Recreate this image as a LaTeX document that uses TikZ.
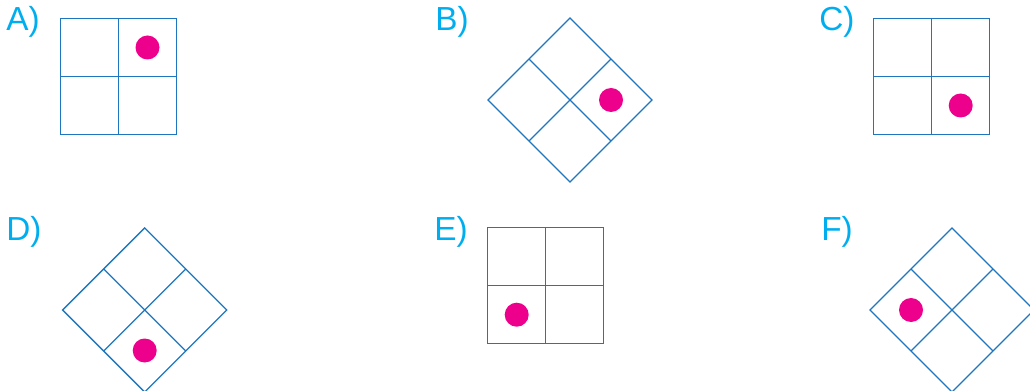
\documentclass[tikz,border=0pt]{standalone}
\usepackage{fontspec}
\setmainfont{Liberation Sans}
\usepackage{tikz}
\usetikzlibrary{positioning}

\definecolor{gridblue}{RGB}{30,118,190}
\definecolor{labelcyan}{RGB}{0,174,239}
\definecolor{dotpink}{RGB}{236,0,140}

\begin{document}
\begin{tikzpicture}[
    x=0.75pt, y=-0.75pt,
    gridline/.style={draw=gridblue, line width=1pt, line join=miter},
    dot/.style={fill=dotpink},
    tag/.style={anchor=base west, inner sep=0pt, text=labelcyan, font=\fontsize{25}{29}\selectfont}
]
    \useasboundingbox (0,0) rectangle (1030,391);

    % labels
    \node[tag] (labA) at (6,31) {A)};
    \node[tag] (labB) at (435,31) {B)};
    \node[tag] (labC) at (819,31) {C)};
    \node[tag] (labD) at (6,241) {D)};
    \node[tag] (labE) at (434,241) {E)};
    \node[tag] (labF) at (821,241) {F)};

    % A: square, dot top right
    \begin{scope}[shift={(118.5,76.5)}]
        \draw[gridline] (-58,-58) rectangle (58,58) (0,-58) -- (0,58) (-58,0) -- (58,0);
        \fill[dot] (29,-29) circle (12);
    \end{scope}

    % B: diamond, dot right
    \begin{scope}[shift={(570,100)}, rotate=45]
        \draw[gridline] (-58,-58) rectangle (58,58) (0,-58) -- (0,58) (-58,0) -- (58,0);
    \end{scope}
    \fill[dot] (611,100) circle (12);

    % C: square, dot bottom right
    \begin{scope}[shift={(931.7,76.5)}]
        \draw[gridline] (-58,-58) rectangle (58,58) (0,-58) -- (0,58) (-58,0) -- (58,0);
        \fill[dot] (29,29) circle (12);
    \end{scope}

    % D: diamond, dot bottom
    \begin{scope}[shift={(144.7,310)}, rotate=45]
        \draw[gridline] (-58,-58) rectangle (58,58) (0,-58) -- (0,58) (-58,0) -- (58,0);
    \end{scope}
    \fill[dot] (144.7,350.5) circle (12);

    % E: square, dot bottom left
    \begin{scope}[shift={(545.7,285.7)}]
        \draw[gridline] (-58,-58) rectangle (58,58) (0,-58) -- (0,58) (-58,0) -- (58,0);
        \fill[dot] (-29,29) circle (12);
    \end{scope}

    % F: diamond, dot left
    \begin{scope}[shift={(952,310)}, rotate=45]
        \draw[gridline] (-58,-58) rectangle (58,58) (0,-58) -- (0,58) (-58,0) -- (58,0);
    \end{scope}
    \fill[dot] (911,310) circle (12);
\end{tikzpicture}
\end{document}
